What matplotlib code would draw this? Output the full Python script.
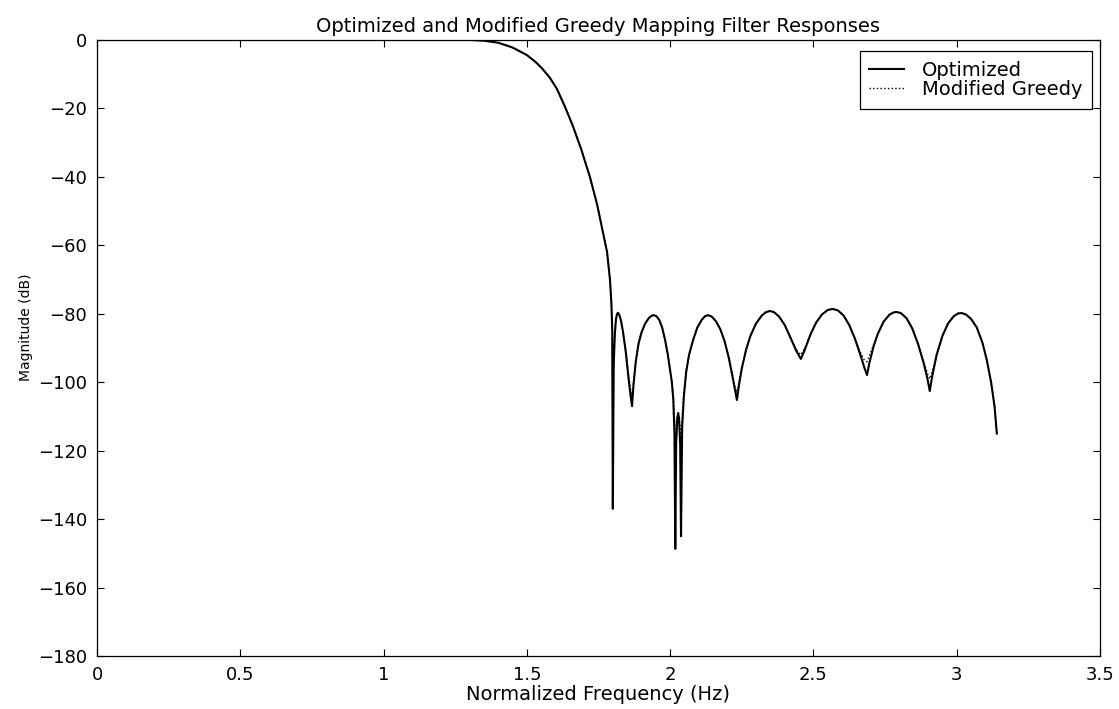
import matplotlib
matplotlib.use("Agg")
import matplotlib.pyplot as plt

# frequency / magnitude (Optimized filter)
freq = [0.0, 0.5, 1.0, 1.3, 1.35, 1.4, 1.45, 1.5, 1.53, 1.553, 1.58, 1.605, 1.633, 1.66,
        1.69, 1.72, 1.745, 1.765, 1.78, 1.79, 1.795, 1.798,
        # lobe 1
        1.800, 1.803, 1.807, 1.811, 1.815, 1.818, 1.822, 1.828, 1.835, 1.845,
        1.855, 1.862, 1.867,
        # lobe 2 + double null
        1.872, 1.88, 1.89, 1.9, 1.912, 1.925, 1.935, 1.943, 1.952, 1.962,
        1.972, 1.982, 1.992, 2.0, 2.006, 2.011, 2.015, 2.018, 2.021, 2.025,
        2.028, 2.031, 2.035, 2.038, 2.042,
        # lobe 3
        2.048, 2.056, 2.066, 2.08, 2.095, 2.11, 2.122, 2.132, 2.145, 2.16,
        2.175, 2.19, 2.205, 2.218, 2.227, 2.233,
        # lobe 4
        2.24, 2.25, 2.265, 2.28, 2.3, 2.32, 2.335, 2.348, 2.362, 2.38,
        2.4, 2.42, 2.44, 2.456,
        # lobe 5
        2.47, 2.49, 2.51, 2.53, 2.55, 2.568, 2.585, 2.605, 2.625, 2.645,
        2.665, 2.678, 2.687,
        # lobe 6
        2.695, 2.71, 2.725, 2.745, 2.765, 2.78, 2.791, 2.805, 2.825, 2.845,
        2.865, 2.885, 2.898, 2.906,
        # lobe 7
        2.914, 2.93, 2.95, 2.97, 2.99, 3.005, 3.018, 3.032, 3.05, 3.07,
        3.09, 3.105, 3.12, 3.132, 3.14]

opt_db = [0.0, 0.0, 0.0, 0.0, -0.2, -0.8, -2.2, -4.4, -6.4, -8.3, -11.0, -14.3, -19.5, -25.0,
          -32.0, -40.0, -48.0, -56.0, -62.0, -70.0, -77.0, -85.0,
          -137.0, -95.0, -86.0, -81.5, -80.0, -79.7, -80.2, -81.8, -85.0, -91.0,
          -99.0, -104.0, -107.0,
          -101.0, -94.0, -88.6, -85.5, -83.0, -81.3, -80.6, -80.4, -80.7, -81.8,
          -84.0, -87.5, -92.0, -96.5, -100.0, -105.0, -115.0, -148.7, -118.0, -110.5,
          -109.0, -110.5, -118.0, -145.0, -113.0,
          -104.0, -97.0, -92.0, -87.7, -84.0, -81.8, -80.7, -80.4, -80.8, -82.2,
          -84.5, -88.0, -93.0, -98.5, -102.5, -105.2,
          -101.0, -96.0, -90.5, -86.5, -82.8, -80.5, -79.5, -79.2, -79.5, -80.8,
          -83.3, -87.0, -90.8, -93.2,
          -90.5, -86.0, -82.5, -80.2, -78.9, -78.6, -79.0, -80.5, -83.3, -87.3,
          -92.3, -95.8, -97.9,
          -94.5, -89.5, -85.8, -82.3, -80.3, -79.6, -79.5, -79.8, -81.3, -84.3,
          -88.8, -94.5, -99.0, -102.6,
          -98.5, -92.0, -86.5, -82.8, -80.7, -79.9, -79.8, -80.2, -81.5, -84.0,
          -88.5, -93.5, -100.0, -107.0, -115.0]

# Modified Greedy mapping: same sampling, slightly shallower nulls
greedy_db = [0.0, 0.0, 0.0, 0.0, -0.2, -0.8, -2.2, -4.4, -6.4, -8.3, -11.0, -14.3, -19.5, -25.0,
             -32.0, -40.0, -48.0, -56.0, -62.0, -70.0, -77.0, -85.0,
             -128.0, -95.0, -86.0, -81.5, -80.0, -79.7, -80.2, -81.8, -85.0, -91.0,
             -98.0, -102.0, -104.0,
             -100.0, -94.0, -88.6, -85.5, -83.0, -81.3, -80.6, -80.4, -80.7, -81.8,
             -84.0, -87.5, -92.0, -96.5, -100.0, -104.0, -110.0, -120.0, -112.0, -110.0,
             -109.5, -110.5, -113.0, -118.0, -110.0,
             -103.0, -97.0, -92.0, -87.7, -84.0, -81.8, -80.7, -80.4, -80.8, -82.2,
             -84.5, -88.0, -93.0, -98.0, -101.5, -103.0,
             -100.0, -96.0, -90.5, -86.5, -82.8, -80.5, -79.5, -79.2, -79.5, -80.8,
             -83.3, -87.0, -90.5, -92.0,
             -90.0, -86.0, -82.5, -80.2, -78.9, -78.6, -79.0, -80.5, -83.3, -87.3,
             -91.5, -93.5, -94.0,
             -92.5, -89.0, -85.8, -82.3, -80.3, -79.6, -79.5, -79.8, -81.3, -84.3,
             -88.8, -94.0, -97.5, -99.0,
             -97.0, -92.0, -86.5, -82.8, -80.7, -79.9, -79.8, -80.2, -81.5, -84.0,
             -88.5, -93.5, -100.0, -107.0, -115.0]

xticks = [0, 0.5, 1, 1.5, 2, 2.5, 3, 3.5]
xtick_labels = ["0", "0.5", "1", "1.5", "2", "2.5", "3", "3.5"]
yticks = [0, -20, -40, -60, -80, -100, -120, -140, -160, -180]

plt.rcParams['font.family'] = ['DejaVu Sans']
plt.rcParams['axes.unicode_minus'] = True

fig = plt.figure(figsize=(11.19, 7.09), dpi=100)
ax = fig.add_axes([0.0867, 0.0748, 0.8963, 0.8688])

ax.plot(freq, opt_db, color='black', linewidth=1.5, label='Optimized')
ax.plot(freq, greedy_db, color='black', linewidth=1.0, linestyle=':', label='Modified Greedy')

ax.set_xlim(0, 3.5)
ax.set_ylim(-180, 0)
ax.set_xticks(xticks)
ax.set_xticklabels(xtick_labels)
ax.set_yticks(yticks)
ax.tick_params(direction='in', top=True, right=True, length=5, width=0.8,
               labelsize=13, pad=7)
for s in ax.spines.values():
    s.set_linewidth(0.9)

ax.set_title('Optimized and Modified Greedy Mapping Filter Responses', fontsize=14, pad=6)
ax.set_xlabel('Normalized Frequency (Hz)', fontsize=14, labelpad=1)
ax.set_ylabel('Magnitude (dB)', fontsize=10)
ax.yaxis.set_label_coords(-0.064, 0.534)

leg = ax.legend(loc='upper right', bbox_to_anchor=(0.992, 0.982), borderaxespad=0,
                fancybox=False, framealpha=1, edgecolor='black', fontsize=14,
                handlelength=1.8, handletextpad=0.9, borderpad=0.5, labelspacing=0.0)
leg.get_frame().set_linewidth(0.9)

fig.savefig('out.png', dpi=100)
